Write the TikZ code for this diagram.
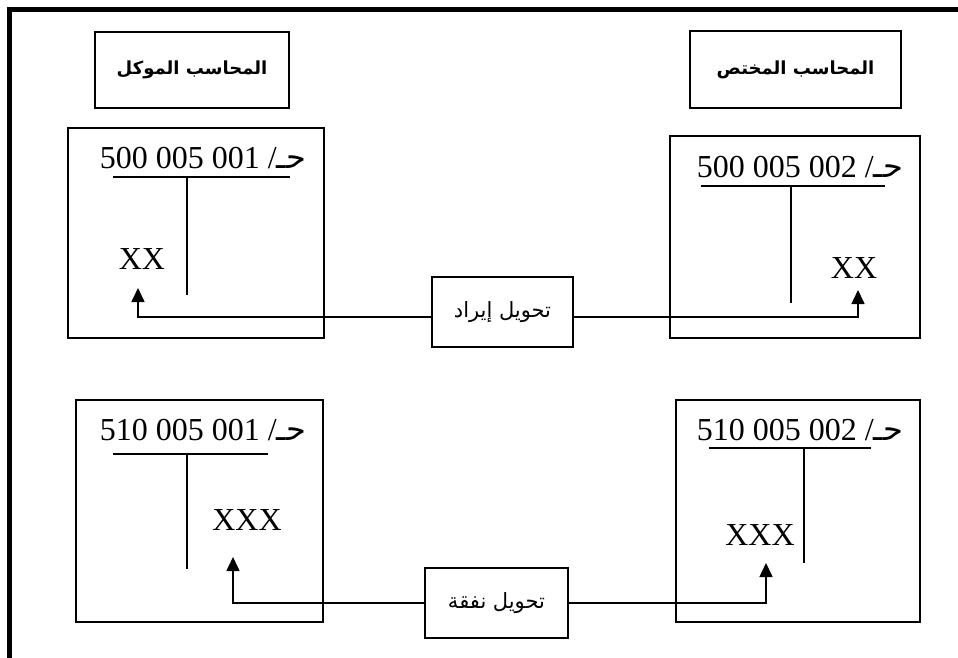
\documentclass[tikz,border=0pt]{standalone}
\usepackage{fontspec}
\setmainfont{Liberation Serif}
\newfontfamily\arabicfont[Script=Arabic]{DejaVu Sans}
\TeXXeTstate=1
\usetikzlibrary{arrows.meta}
\tikzset{
  box/.style={draw, line width=1.6pt, inner sep=0pt},
  tline/.style={line width=1.6pt},
  conn/.style={line width=1.6pt, -{Triangle[width=13pt,length=14pt]}},
  numtxt/.style={font=\fontsize{32}{38}\selectfont, inner sep=0pt},
  titletxt/.style={font=\arabicfont\bfseries\fontsize{18}{22}\selectfont, inner sep=0pt},
  labeltxt/.style={font=\arabicfont\fontsize{21}{26}\selectfont, inner sep=0pt},
}
\begin{document}
\begin{tikzpicture}[x=1pt,y=-1pt]
\useasboundingbox (0,0) rectangle (958,658);
% outer frame (partly cut)
\draw[line width=5pt] (9.5,660) -- (9.5,9.5) -- (960,9.5);
% titles
\node[box, minimum width=194pt, minimum height=76pt] (t1) at (192,70) {};
\node[titletxt] (t1txt) at (t1.center) {\beginR المحاسب الموكل\endR};
\node[box, minimum width=211pt, minimum height=77pt] (t2) at (795.5,69.5) {};
\node[titletxt] (t2txt) at (t2.center) {\beginR المحاسب المختص\endR};
% account boxes
\node[box, minimum width=256pt, minimum height=210pt] (a1) at (196,233) {};
\node[box, minimum width=250pt, minimum height=202pt] (a2) at (795,237) {};
\node[box, minimum width=247pt, minimum height=222pt] (a3) at (199.5,511) {};
\node[box, minimum width=244pt, minimum height=222pt] (a4) at (798,511) {};
% account headings
\node[numtxt, anchor=base] (h1) at (203,168) {500 005 001 /{\arabicfont\beginR حـ\endR}};
\node[numtxt, anchor=base] (h2) at (800,177) {500 005 002 /{\arabicfont\beginR حـ\endR}};
\node[numtxt, anchor=base] (h3) at (203,440) {510 005 001 /{\arabicfont\beginR حـ\endR}};
\node[numtxt, anchor=base] (h4) at (800,440) {510 005 002 /{\arabicfont\beginR حـ\endR}};
% T lines
\draw[tline] (113,177) -- (290,177) (187,177) -- (187,295);
\draw[tline] (701,186) -- (885,186) (791,186) -- (791,303);
\draw[tline] (113,454) -- (268,454) (187,454) -- (187,569);
\draw[tline] (709,448) -- (871,448) (804,448) -- (804,563);
% amounts
\node[numtxt] (x1) at (142,259) {XX};
\node[numtxt] (x2) at (854,268) {XX};
\node[numtxt] (x3) at (247,520) {XXX};
\node[numtxt] (x4) at (760,535) {XXX};
% transfer boxes
\node[box, fill=white, minimum width=141pt, minimum height=70pt] (l1) at (502.5,312) {};
\node[labeltxt] (l1txt) at (l1.center) {\beginR تحويل إيراد\endR};
\node[box, fill=white, minimum width=143pt, minimum height=70pt] (l2) at (496.5,603) {};
\node[labeltxt] (l2txt) at (l2.center) {\beginR تحويل نفقة\endR};
% arrow tips
\coordinate (p1) at (138,288);
\coordinate (p2) at (858,290);
\coordinate (p3) at (233,557);
\coordinate (p4) at (766,563);
\draw[conn] ([yshift=-5pt]l1.west) -| (p1);
\draw[conn] ([yshift=-5pt]l1.east) -| (p2);
\draw[conn] (l2.west) -| (p3);
\draw[conn] (l2.east) -| (p4);
\end{tikzpicture}
\end{document}
